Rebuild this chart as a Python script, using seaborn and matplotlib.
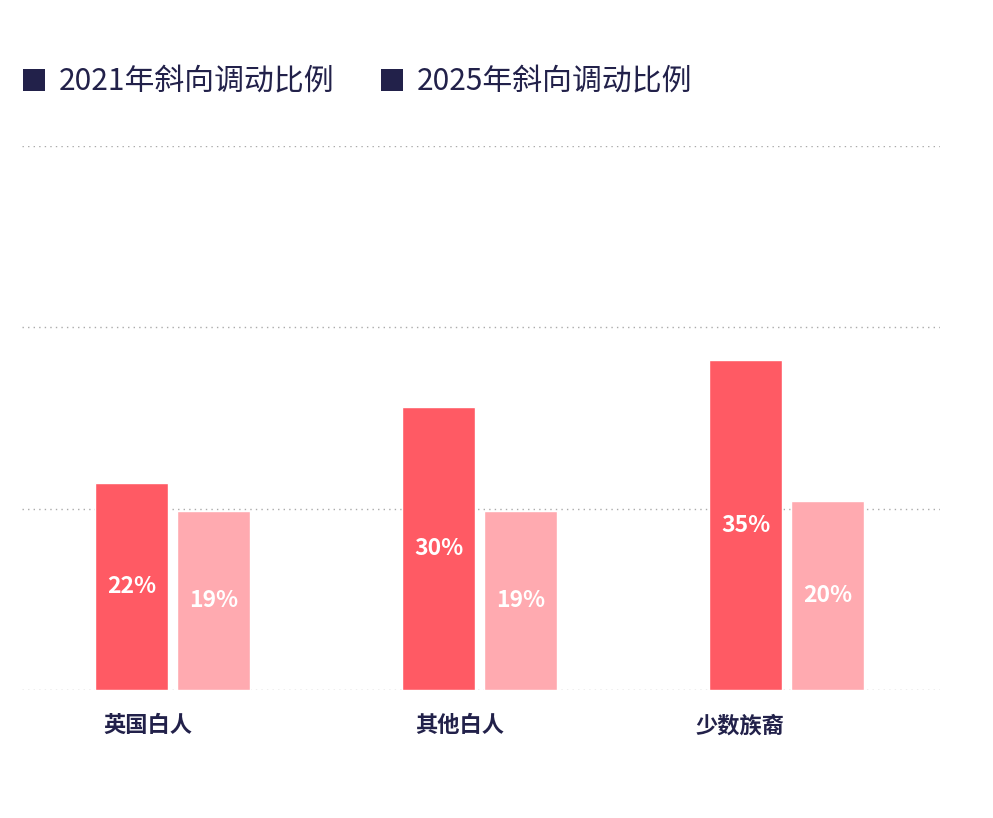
import pandas as pd
import seaborn as sns
import matplotlib.pyplot as plt
from matplotlib.patches import Patch

groups = ["英国白人", "其他白人", "少数族裔"]
years = ["2021年斜向调动比例", "2025年斜向调动比例"]
rate_2021 = [22, 30, 35]
rate_2025 = [19, 19, 20]

bar_colors = ["#ff5a64", "#ffaab0"]
navy = "#22214a"

df = pd.DataFrame({
    "group": groups * 2,
    "year": [years[0]] * 3 + [years[1]] * 3,
    "value": rate_2021 + rate_2025,
})

sns.set_style("white")
plt.rcParams["font.family"] = ["Noto Sans CJK SC", "DejaVu Sans"]

fig = plt.figure(figsize=(9.93, 8.18), dpi=100)
ax = fig.add_axes([0.0222, 0.1565, 0.9244, 0.665])

sns.barplot(data=df, x="group", y="value", hue="year", palette=bar_colors,
            width=0.534, gap=0.11, saturation=1, legend=False, ax=ax)

for cont in ax.containers:
    ax.bar_label(cont, labels=[f"{v:.0f}%" for v in cont.datavalues],
                 label_type="center", color="white", fontsize=16.5, fontweight="bold")

top = 57.7
ax.set_ylim(0, top)
ax.set_xlim(-0.49, 2.50)
ax.set_yticks([0, top / 3, 2 * top / 3, top])
ax.yaxis.grid(True, linestyle=(0, (1, 3)), color="#aaaaaa", linewidth=1)
ax.set_axisbelow(True)
ax.tick_params(axis="y", left=False, labelleft=False)
ax.tick_params(axis="x", bottom=False, pad=14)
for s in ax.spines.values():
    s.set_visible(False)
ax.set_xlabel("")
ax.set_ylabel("")

# category labels sit a little left of the bar groups
label_shift = [-0.08, -0.065, -0.15]
ax.set_xticks([i + d for i, d in enumerate(label_shift)])
ax.set_xticklabels(groups, fontsize=16, fontweight="bold", color=navy)

handles = [Patch(facecolor=navy, edgecolor="none") for _ in years]
fig.legend(handles, years, loc="center left", bbox_to_anchor=(-0.004, 0.9),
           ncol=2, frameon=False, handlelength=0.75, handleheight=0.75,
           handletextpad=0.45, columnspacing=1.55, labelcolor=navy,
           prop={"weight": "light", "size": 21.5})

fig.savefig("out.png", dpi=100, facecolor="white")
